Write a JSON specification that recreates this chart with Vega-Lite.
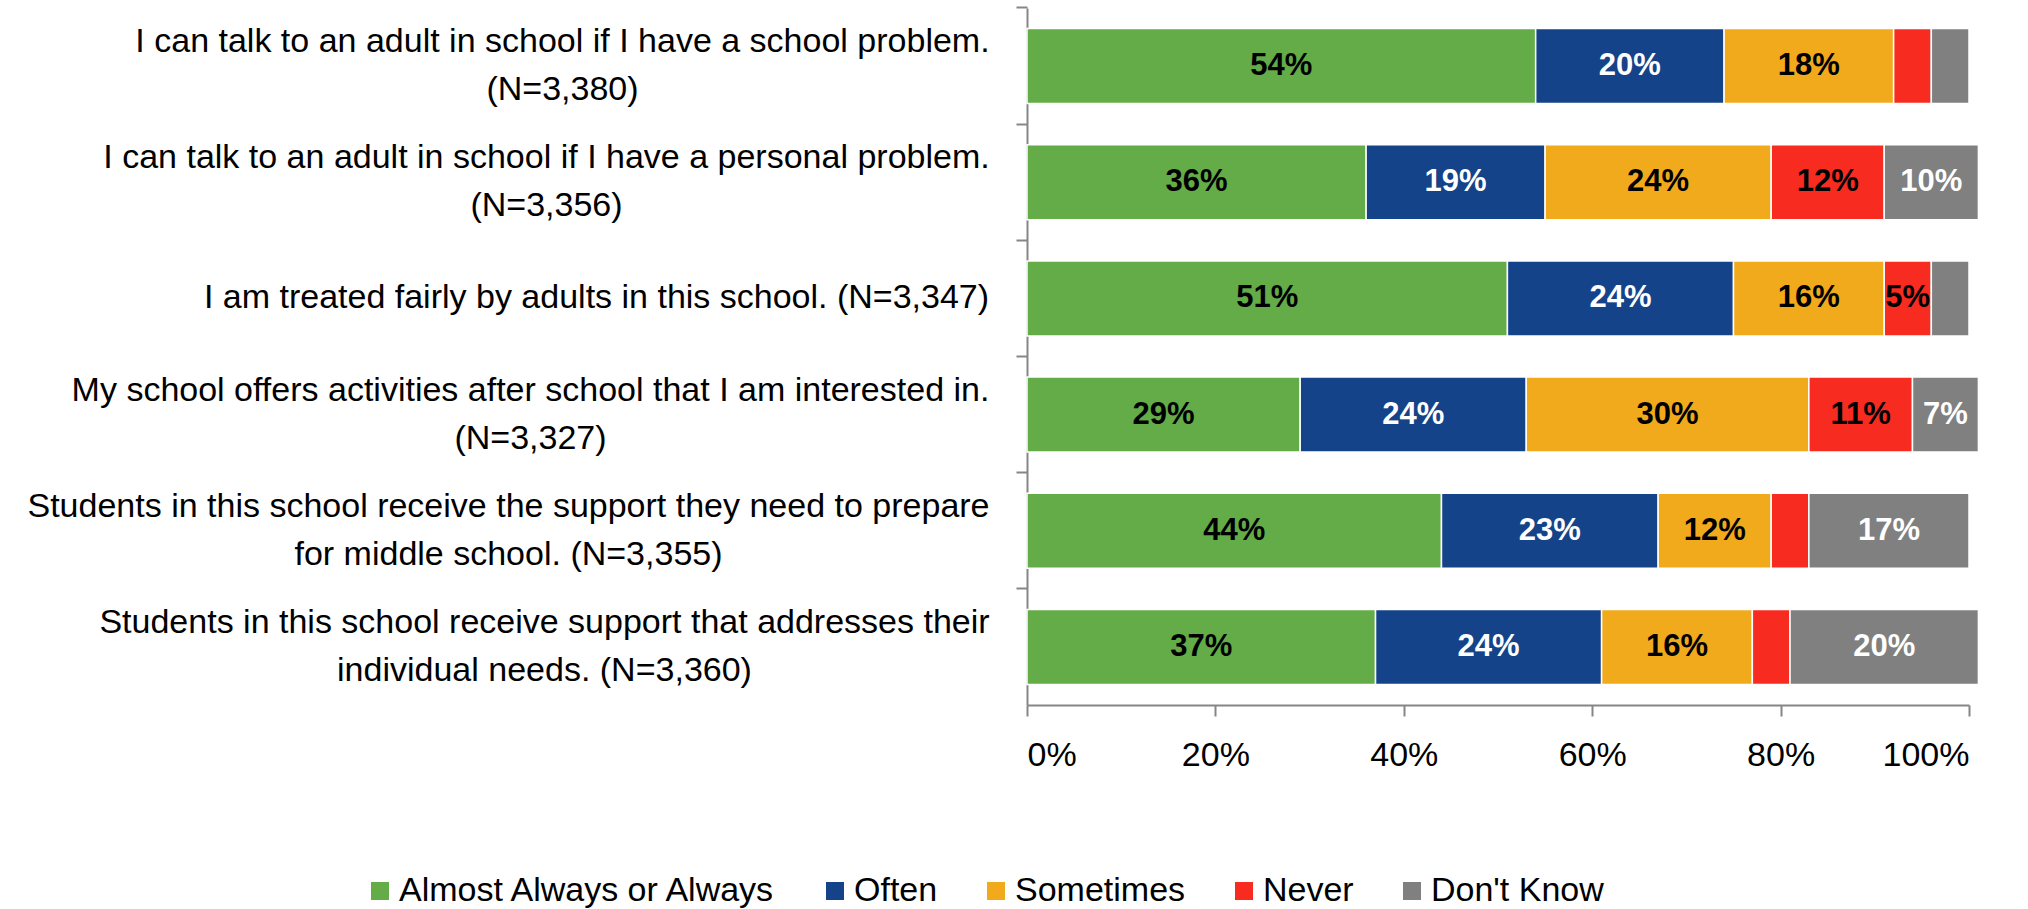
{
  "$schema": "https://vega.github.io/schema/vega-lite/v6.json",
  "autosize": {"type": "none"},
  "width": 942,
  "height": 697,
  "padding": {"left": 1027, "top": 8, "right": 59, "bottom": 204},
  "background": "white",
  "config": {
    "view": {"stroke": null},
    "font": "Liberation Sans, sans-serif"
  },
  "data": {
    "values": [
      {"q": "I can talk to an adult in school if I have a school problem.|(N=3,380)", "cat": "Almost Always or Always", "v": 54},
      {"q": "I can talk to an adult in school if I have a school problem.|(N=3,380)", "cat": "Often", "v": 20},
      {"q": "I can talk to an adult in school if I have a school problem.|(N=3,380)", "cat": "Sometimes", "v": 18},
      {"q": "I can talk to an adult in school if I have a school problem.|(N=3,380)", "cat": "Never", "v": 4},
      {"q": "I can talk to an adult in school if I have a school problem.|(N=3,380)", "cat": "Don't Know", "v": 4},
      {"q": "I can talk to an adult in school if I have a personal problem.|(N=3,356)", "cat": "Almost Always or Always", "v": 36},
      {"q": "I can talk to an adult in school if I have a personal problem.|(N=3,356)", "cat": "Often", "v": 19},
      {"q": "I can talk to an adult in school if I have a personal problem.|(N=3,356)", "cat": "Sometimes", "v": 24},
      {"q": "I can talk to an adult in school if I have a personal problem.|(N=3,356)", "cat": "Never", "v": 12},
      {"q": "I can talk to an adult in school if I have a personal problem.|(N=3,356)", "cat": "Don't Know", "v": 10},
      {"q": "I am treated fairly by adults in this school. (N=3,347)", "cat": "Almost Always or Always", "v": 51},
      {"q": "I am treated fairly by adults in this school. (N=3,347)", "cat": "Often", "v": 24},
      {"q": "I am treated fairly by adults in this school. (N=3,347)", "cat": "Sometimes", "v": 16},
      {"q": "I am treated fairly by adults in this school. (N=3,347)", "cat": "Never", "v": 5},
      {"q": "I am treated fairly by adults in this school. (N=3,347)", "cat": "Don't Know", "v": 4},
      {"q": "My school offers activities after school that I am interested in.|(N=3,327)", "cat": "Almost Always or Always", "v": 29},
      {"q": "My school offers activities after school that I am interested in.|(N=3,327)", "cat": "Often", "v": 24},
      {"q": "My school offers activities after school that I am interested in.|(N=3,327)", "cat": "Sometimes", "v": 30},
      {"q": "My school offers activities after school that I am interested in.|(N=3,327)", "cat": "Never", "v": 11},
      {"q": "My school offers activities after school that I am interested in.|(N=3,327)", "cat": "Don't Know", "v": 7},
      {"q": "Students in this school receive the support they need to prepare|for middle school. (N=3,355)", "cat": "Almost Always or Always", "v": 44},
      {"q": "Students in this school receive the support they need to prepare|for middle school. (N=3,355)", "cat": "Often", "v": 23},
      {"q": "Students in this school receive the support they need to prepare|for middle school. (N=3,355)", "cat": "Sometimes", "v": 12},
      {"q": "Students in this school receive the support they need to prepare|for middle school. (N=3,355)", "cat": "Never", "v": 4},
      {"q": "Students in this school receive the support they need to prepare|for middle school. (N=3,355)", "cat": "Don't Know", "v": 17},
      {"q": "Students in this school receive support that addresses their|individual needs. (N=3,360)", "cat": "Almost Always or Always", "v": 37},
      {"q": "Students in this school receive support that addresses their|individual needs. (N=3,360)", "cat": "Often", "v": 24},
      {"q": "Students in this school receive support that addresses their|individual needs. (N=3,360)", "cat": "Sometimes", "v": 16},
      {"q": "Students in this school receive support that addresses their|individual needs. (N=3,360)", "cat": "Never", "v": 4},
      {"q": "Students in this school receive support that addresses their|individual needs. (N=3,360)", "cat": "Don't Know", "v": 20}
    ]
  },
  "transform": [
    {"calculate": "indexof(['Almost Always or Always','Often','Sometimes','Never',\"Don't Know\"], datum.cat)", "as": "k"},
    {"stack": "v", "groupby": ["q"], "sort": [{"field": "k", "order": "ascending"}], "as": ["v0", "v1"]},
    {"calculate": "(datum.v0 + datum.v1) / 2", "as": "vm"},
    {"calculate": "datum.v + '%'", "as": "lab"}
  ],
  "encoding": {
    "y": {
      "field": "q",
      "type": "nominal",
      "sort": null,
      "title": null,
      "scale": {"paddingInner": 0.355, "paddingOuter": 0.1775},
      "axis": {
        "labelExpr": "datum.value ? split(datum.value, '|') : ''",
        "labelFontSize": 34,
        "labelLineHeight": 48,
        "labelColor": "#000000",
        "labelAlign": "center",
        "labelPadding": {
          "condition": [
            {"test": "indexof(datum.value, 'school problem') >= 0", "value": 454},
            {"test": "indexof(datum.value, 'personal problem') >= 0", "value": 470},
            {"test": "indexof(datum.value, 'treated fairly') >= 0", "value": 420},
            {"test": "indexof(datum.value, 'activities') >= 0", "value": 486},
            {"test": "indexof(datum.value, 'prepare') >= 0", "value": 508},
            {"test": "indexof(datum.value, 'addresses') >= 0", "value": 472}
          ],
          "value": 27
        },
        "labelLimit": 1100,
        "labelOffset": {"condition": {"test": "indexof(datum.value, '|') >= 0", "value": -24}, "value": 0},
        "bandPosition": -0.2752,
        "tickSize": 11,
        "tickColor": "#868686",
        "tickWidth": 2,
        "domainColor": "#868686",
        "domainWidth": 2
      }
    }
  },
  "layer": [
    {
      "mark": {"type": "bar", "stroke": "white", "strokeWidth": 1.5, "clip": false},
      "encoding": {
        "x": {
          "field": "v0",
          "type": "quantitative",
          "title": null,
          "scale": {"domain": [0, 100], "nice": false},
          "axis": {
            "values": [0, 20, 40, 60, 80, 100],
            "labelExpr": "datum.value + '%'",
            "labelFontSize": 34,
            "labelColor": "#000000",
            "labelPadding": 22,
            "grid": false,
            "tickSize": 11,
            "tickColor": "#868686",
            "tickWidth": 2,
            "domainColor": "#868686",
            "domainWidth": 2
          }
        },
        "x2": {"field": "v1"},
        "color": {
          "field": "cat",
          "type": "nominal",
          "title": null,
          "scale": {
            "domain": ["Almost Always or Always", "Often", "Sometimes", "Never", "Don't Know"],
            "range": ["#63AC47", "#144389", "#F1AA1C", "#F82B21", "#808080"]
          },
          "legend": {
            "orient": "none",
            "direction": "horizontal",
            "legendX": -664,
            "legendY": 866,
            "symbolType": "square",
            "symbolSize": 324,
            "symbolStrokeWidth": 0,
            "labelFontSize": 34,
            "labelColor": "#000000",
            "labelOffset": 2,
            "columnPadding": 41,
            "labelLimit": 500
          }
        }
      }
    },
    {
      "transform": [{"filter": "datum.v >= 5"}],
      "mark": {"type": "text", "fontSize": 31, "fontWeight": "bold", "align": "center", "baseline": "middle"},
      "encoding": {
        "x": {"field": "vm", "type": "quantitative"},
        "text": {"field": "lab", "type": "nominal"},
        "color": {
          "condition": {"test": "datum.cat === 'Often' || datum.cat === \"Don't Know\"", "value": "#FFFFFF"},
          "value": "#000000"
        }
      }
    }
  ]
}
